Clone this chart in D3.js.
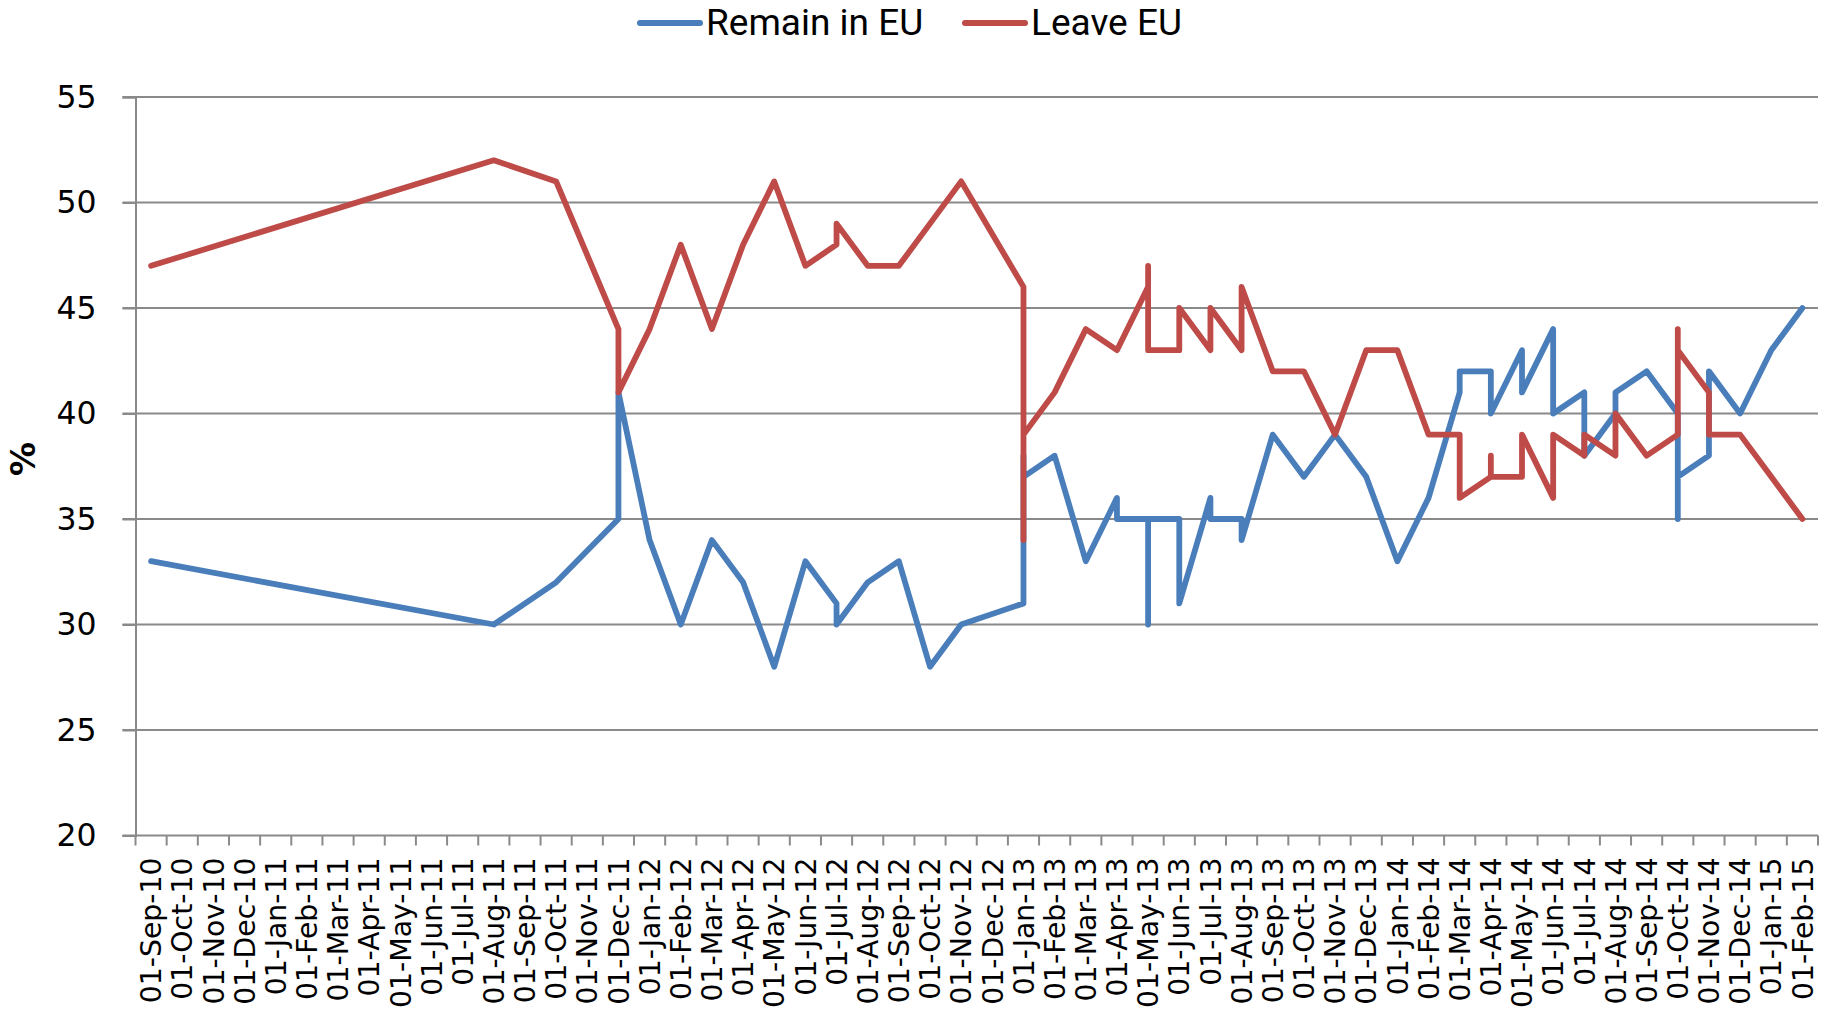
<!DOCTYPE html>
<html>
<head>
<meta charset="utf-8">
<script src="https://cdn.jsdelivr.net/npm/d3@7"></script>
<style>
  body { margin: 0; background: #ffffff; }
  svg { display: block; }
</style>
</head>
<body>
<svg id="chart"></svg>
<script>
//////////////////////////////////////////////////////////////////////////////
// data - months on the x axis (one band per month) and the polls
//////////////////////////////////////////////////////////////////////////////
var months = [
  "01-Sep-10","01-Oct-10","01-Nov-10","01-Dec-10",
  "01-Jan-11","01-Feb-11","01-Mar-11","01-Apr-11","01-May-11","01-Jun-11",
  "01-Jul-11","01-Aug-11","01-Sep-11","01-Oct-11","01-Nov-11","01-Dec-11",
  "01-Jan-12","01-Feb-12","01-Mar-12","01-Apr-12","01-May-12","01-Jun-12",
  "01-Jul-12","01-Aug-12","01-Sep-12","01-Oct-12","01-Nov-12","01-Dec-12",
  "01-Jan-13","01-Feb-13","01-Mar-13","01-Apr-13","01-May-13","01-Jun-13",
  "01-Jul-13","01-Aug-13","01-Sep-13","01-Oct-13","01-Nov-13","01-Dec-13",
  "01-Jan-14","01-Feb-14","01-Mar-14","01-Apr-14","01-May-14","01-Jun-14",
  "01-Jul-14","01-Aug-14","01-Sep-14","01-Oct-14","01-Nov-14","01-Dec-14",
  "01-Jan-15","01-Feb-15"
];

// month of each poll (several polls can fall in the same month)
var pollMonth = [
  "01-Sep-10","01-Aug-11","01-Oct-11","01-Dec-11","01-Dec-11",
  "01-Jan-12","01-Feb-12","01-Mar-12","01-Apr-12","01-May-12","01-Jun-12",
  "01-Jul-12","01-Jul-12","01-Aug-12","01-Sep-12","01-Oct-12","01-Nov-12",
  "01-Jan-13","01-Jan-13","01-Jan-13","01-Feb-13","01-Mar-13",
  "01-Apr-13","01-Apr-13","01-May-13","01-May-13","01-May-13",
  "01-Jun-13","01-Jun-13","01-Jul-13","01-Jul-13","01-Aug-13","01-Aug-13",
  "01-Sep-13","01-Oct-13","01-Nov-13","01-Dec-13",
  "01-Jan-14","01-Feb-14","01-Mar-14","01-Mar-14",
  "01-Apr-14","01-Apr-14","01-Apr-14","01-May-14","01-May-14",
  "01-Jun-14","01-Jun-14","01-Jul-14","01-Jul-14","01-Aug-14","01-Aug-14",
  "01-Sep-14","01-Oct-14","01-Oct-14","01-Oct-14","01-Nov-14","01-Nov-14",
  "01-Dec-14","01-Jan-15","01-Feb-15"
];

var remain = [
  33, 30, 32, 35, 41,
  34, 30, 34, 32, 28, 33,
  31, 30, 32, 33, 28, 30,
  31, 38, 37, 38, 33,
  36, 35, 35, 30, 35,
  35, 31, 36, 35, 35, 34,
  39, 37, 39, 37,
  33, 36, 41, 42,
  42, 41, 40, 43, 41,
  44, 40, 41, 38, 40, 41,
  42, 40, 35, 37, 38, 42,
  40, 43, 45
];

var leave = [
  47, 52, 51, 44, 41,
  44, 48, 44, 48, 51, 47,
  48, 49, 47, 47, 49, 51,
  46, 34, 39, 41, 44,
  43, 43, 46, 47, 43,
  43, 45, 43, 45, 43, 46,
  42, 42, 39, 43,
  43, 39, 39, 36,
  37, 38, 37, 37, 39,
  36, 39, 38, 39, 38, 40,
  38, 39, 44, 43, 41, 39,
  39, 37, 35
];

var yTicks = [20, 25, 30, 35, 40, 45, 50, 55];
var seriesNames = ["Remain in EU", "Leave EU"];
var seriesColors = ["#4a7ebb", "#be4b48"];

//////////////////////////////////////////////////////////////////////////////
// layout
//////////////////////////////////////////////////////////////////////////////
var width = 1831, height = 1010;
var margins = {top: 97, right: 13, bottom: 174.5, left: 135.5};
var plotW = width - margins.left - margins.right;
var plotH = height - margins.top - margins.bottom;

var svg = d3.select("#chart")
  .attr("width", width)
  .attr("height", height);

svg.append("rect")
  .attr("width", width)
  .attr("height", height)
  .attr("fill", "#ffffff");

// scales - band per month, like an excel date axis with base unit = months
var xScale = d3.scaleBand()
  .domain(months)
  .range([0, plotW])
  .paddingInner(0)
  .paddingOuter(0);

var yScale = d3.scaleLinear()
  .domain([20, 55])
  .range([plotH, 0]);

var g = svg.append("g")
  .attr("transform", "translate(" + margins.left + "," + margins.top + ")");

var gridColor = "#8a8a8a";

// horizontal gridlines (also carry the y tick marks)
g.append("g")
  .selectAll("line")
  .data(yTicks)
  .enter()
  .append("line")
  .attr("x1", -13)
  .attr("x2", plotW)
  .attr("y1", function(d) { return yScale(d); })
  .attr("y2", function(d) { return yScale(d); })
  .attr("stroke", gridColor)
  .attr("stroke-width", 2);

// Y axis
var yAxis = g.append("g")
  .call(d3.axisLeft(yScale).tickValues(yTicks).tickSize(13).tickPadding(26));
yAxis.select(".domain").attr("stroke", gridColor).attr("stroke-width", 2);
yAxis.selectAll(".tick line").attr("stroke", gridColor).attr("stroke-width", 2);
yAxis.selectAll("text")
  .attr("fill", "#000")
  .style("font-family", "'DejaVu Sans', Verdana, sans-serif")
  .style("font-size", "31.5px");

// X axis - labels centred in each month band, ticks on the band edges
var xAxis = g.append("g")
  .attr("transform", "translate(0," + plotH + ")")
  .call(d3.axisBottom(xScale).tickSize(0));
xAxis.select(".domain").remove();
xAxis.selectAll("text")
  .attr("transform", "rotate(-90)")
  .attr("x", -22)
  .attr("y", 0)
  .attr("dy", "0.36em")
  .attr("fill", "#000")
  .style("text-anchor", "end")
  .style("font-family", "'DejaVu Sans', Verdana, sans-serif")
  .style("font-size", "28.3px");

var edges = months.map(function(m) { return xScale(m); }).concat([plotW]);
g.append("g")
  .selectAll("line")
  .data(edges)
  .enter()
  .append("line")
  .attr("x1", function(d) { return d; })
  .attr("x2", function(d) { return d; })
  .attr("y1", plotH)
  .attr("y2", plotH + 10)
  .attr("stroke", gridColor)
  .attr("stroke-width", 2);

// y axis title
svg.append("text")
  .attr("transform", "translate(23,459) rotate(-90)")
  .attr("text-anchor", "middle")
  .attr("dy", "0.36em")
  .style("font-family", "'DejaVu Sans', Verdana, sans-serif")
  .style("font-weight", "bold")
  .style("font-size", "34px")
  .text("%");

//////////////////////////////////////////////////////////////////////////////
// the two lines
//////////////////////////////////////////////////////////////////////////////
var line = d3.line()
  .x(function(d) { return xScale(d.month) + xScale.bandwidth() / 2; })
  .y(function(d) { return yScale(d.value); });

[remain, leave].forEach(function(vals, s) {
  var pts = vals.map(function(v, i) { return {month: pollMonth[i], value: v}; });
  g.append("path")
    .datum(pts)
    .attr("d", line)
    .attr("fill", "none")
    .attr("stroke", seriesColors[s])
    .attr("stroke-width", 5.8)
    .attr("stroke-linejoin", "round")
    .attr("stroke-linecap", "round");
});

//////////////////////////////////////////////////////////////////////////////
// legend
//////////////////////////////////////////////////////////////////////////////
var legendX = [640, 965];
var legend = svg.append("g");
seriesNames.forEach(function(name, s) {
  legend.append("line")
    .attr("x1", legendX[s])
    .attr("x2", legendX[s] + 60)
    .attr("y1", 23)
    .attr("y2", 23)
    .attr("stroke", seriesColors[s])
    .attr("stroke-width", 6)
    .attr("stroke-linecap", "round");
  legend.append("text")
    .attr("x", legendX[s] + 66)
    .attr("y", 35)
    .style("font-family", "Roboto, 'Open Sans', sans-serif")
    .style("font-size", "37px")
    .attr("fill", "#000")
    .text(name);
});
</script>
</body>
</html>
